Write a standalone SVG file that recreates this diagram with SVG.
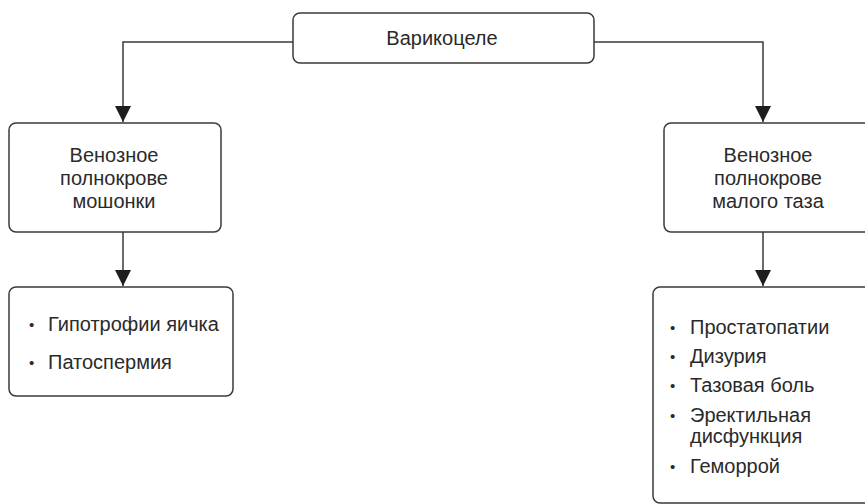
<svg xmlns="http://www.w3.org/2000/svg" width="865" height="504" viewBox="0 0 865 504">
<defs>
<style>
.box{fill:#fff;stroke:#3a3a3a;stroke-width:1.5}
.t{font-family:"Liberation Sans",Arial,sans-serif;font-size:20px;fill:#2a2a2a}
.b{font-family:"Liberation Sans",Arial,sans-serif;font-size:15px;fill:#2a2a2a}
.c{text-anchor:middle}
.ln{fill:none;stroke:#3a3a3a;stroke-width:1.5}
</style>
<marker id="ah" viewBox="0 0 10 10" refX="10" refY="5" markerWidth="16" markerHeight="16" markerUnits="userSpaceOnUse" orient="auto">
<path d="M0,0 L10,5 L0,10 z" fill="#1e1e1e"/>
</marker>
</defs>
<rect width="865" height="504" fill="#fff"/>
<g id="connectors">
<path class="ln" d="M293,42 H123 V122" marker-end="url(#ah)"/>
<path class="ln" d="M594,42 H763 V122" marker-end="url(#ah)"/>
<path class="ln" d="M123,232 V286" marker-end="url(#ah)"/>
<path class="ln" d="M763,232 V286" marker-end="url(#ah)"/>
</g>
<g id="varikocele">
<rect class="box" x="293" y="13" width="301" height="50" rx="7"/>
<text class="t c" x="442" y="45">Варикоцеле</text>
</g>
<g id="scrotum">
<rect class="box" x="9" y="123" width="212" height="109" rx="7"/>
<text class="t c" x="114" y="162">Венозное</text>
<text class="t c" x="114" y="185">полнокрове</text>
<text class="t c" x="114" y="208">мошонки</text>
</g>
<g id="pelvis">
<rect class="box" x="664" y="123" width="212" height="109" rx="7"/>
<text class="t c" x="768" y="162">Венозное</text>
<text class="t c" x="768" y="185">полнокрове</text>
<text class="t c" x="768" y="208">малого таза</text>
</g>
<g id="scrotum-effects">
<rect class="box" x="9" y="287" width="224" height="109" rx="7"/>
<text class="b" x="29" y="330">•</text><text class="t" x="48" y="331">Гипотрофии яичка</text>
<text class="b" x="29" y="368">•</text><text class="t" x="48" y="369">Патоспермия</text>
</g>
<g id="pelvis-effects">
<rect class="box" x="653" y="287" width="230" height="216" rx="7"/>
<text class="b" x="670" y="333">•</text><text class="t" x="690" y="334">Простатопатии</text>
<text class="b" x="670" y="362">•</text><text class="t" x="690" y="363">Дизурия</text>
<text class="b" x="670" y="391">•</text><text class="t" x="690" y="392">Тазовая боль</text>
<text class="b" x="670" y="421">•</text><text class="t" x="690" y="422">Эректильная</text>
<text class="t" x="690" y="443">дисфункция</text>
<text class="b" x="670" y="472">•</text><text class="t" x="690" y="473">Геморрой</text>
</g>
</svg>
